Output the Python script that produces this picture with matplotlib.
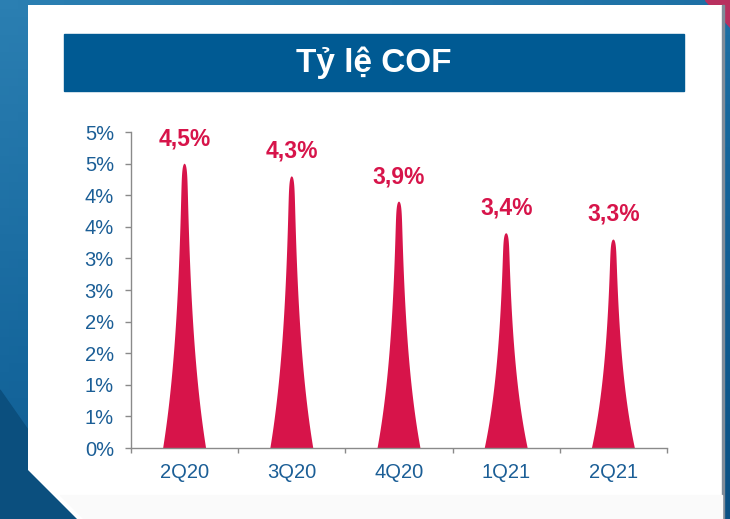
import numpy as np
import matplotlib.pyplot as plt
from matplotlib.patches import Polygon
from matplotlib.colors import LinearSegmentedColormap

# data
quarters = ['2Q20', '3Q20', '4Q20', '1Q21', '2Q21']
cof = [4.5, 4.3, 3.9, 3.4, 3.3]
cof_labels = ['4,5%', '4,3%', '3,9%', '3,4%', '3,3%']
ytick_vals = [0, 0.5, 1, 1.5, 2, 2.5, 3, 3.5, 4, 4.5, 5]
ytick_labels = ['0%', '1%', '1%', '2%', '2%', '3%', '3%', '4%', '4%', '5%', '5%']

RED = '#D7144A'
BLUE_TXT = '#1B5E96'
BAR_BLUE = '#005A93'

plt.rcParams['font.family'] = ['Liberation Sans', 'DejaVu Sans']

fig = plt.figure(figsize=(7.30, 5.19), dpi=100)

# slide background, in pixel coords
bg = fig.add_axes([0, 0, 1, 1], zorder=-1)
bg.set_xlim(0, 730)
bg.set_ylim(519, 0)
bg.axis('off')
cmap = LinearSegmentedColormap.from_list('slide', ['#2b7fb2', '#15669c', '#0a5184'])
gy, gx = np.mgrid[0:1:60j, 0:1:80j]
bg.imshow(gy * 0.7 + gx * 0.3, cmap=cmap, extent=(0, 730, 519, 0), aspect='auto')
bg.add_patch(Polygon([(0, 390), (28, 430), (28, 470), (77, 519), (0, 519)],
                     closed=True, color='#0b4f7e', zorder=2))
bg.add_patch(Polygon([(705, 0), (730, 0), (730, 27)], closed=True, color='#b8305f', zorder=2))
bg.add_patch(Polygon([(28, 5), (722, 5), (722, 519), (77, 519), (28, 470)],
                     closed=True, facecolor='white', edgecolor='none', zorder=3))
bg.add_patch(Polygon([(722, 5), (724, 5), (724, 519), (722, 519)],
                     closed=True, color='#7f8c99', zorder=3))
bg.add_patch(Polygon([(60, 495), (722, 495), (722, 519), (84, 519)],
                     closed=True, color='#fafafa', zorder=3))
bg.add_patch(Polygon([(64, 34), (684, 34), (684, 91), (64, 91)],
                     closed=True, color=BAR_BLUE, zorder=4))
bg.text(374, 63, 'Tỷ lệ COF', color='white', fontsize=24, fontweight='bold',
        ha='center', va='center', zorder=5)

# chart
ax = fig.add_axes([131 / 730, 71 / 519, 536 / 730, 316 / 519])
ax.patch.set_alpha(0)

# peak shape: concave sides with a rounded tip
t = np.linspace(0, 1, 300)
w = np.exp(-2.1 * t) * np.sqrt(np.clip(1 - t ** 40, 0, None))
hw = 0.2

for i, v in enumerate(cof):
    xs = np.concatenate([i - hw * w, (i + hw * w)[::-1]])
    ys = np.concatenate([v * t, (v * t)[::-1]])
    ax.add_patch(Polygon(np.column_stack([xs, ys]), closed=True,
                         facecolor=RED, edgecolor='none'))
    ax.annotate(cof_labels[i], (i, v), xytext=(0, 18), textcoords='offset points',
                ha='center', va='center', color=RED, fontsize=16.5, fontweight='bold')

ax.set_xlim(-0.5, len(quarters) - 0.5)
ax.set_ylim(0, 5)

ax.set_yticks(ytick_vals)
ax.set_yticklabels(ytick_labels)
ax.set_xticks(np.arange(-0.5, len(quarters), 1))
ax.set_xticklabels([])
ax.set_xticks(range(len(quarters)), minor=True)
ax.set_xticklabels(quarters, minor=True)

ax.tick_params(axis='y', length=4.3, width=1, color='#8a8a8a', pad=8,
               labelsize=14.5, labelcolor=BLUE_TXT)
ax.tick_params(axis='x', which='major', length=3.6, width=1, color='#8a8a8a')
ax.tick_params(axis='x', which='minor', length=0, pad=11,
               labelsize=14.5, labelcolor=BLUE_TXT)

for s in ['top', 'right']:
    ax.spines[s].set_visible(False)
for s in ['left', 'bottom']:
    ax.spines[s].set_color('#8a8a8a')
    ax.spines[s].set_linewidth(1)

fig.savefig('out.png', dpi=100)
